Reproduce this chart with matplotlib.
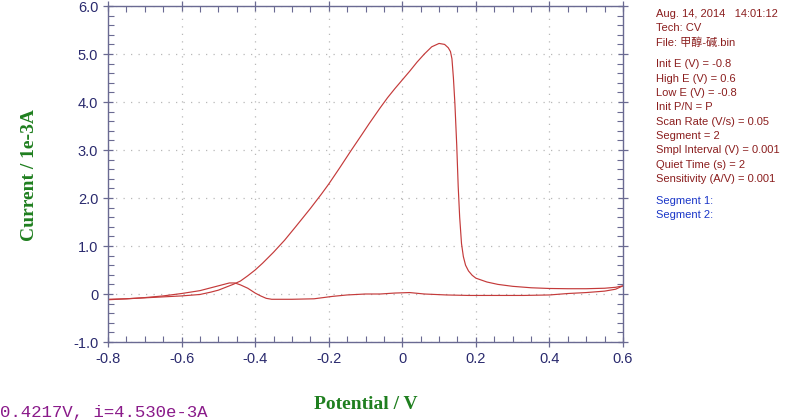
import matplotlib.pyplot as plt
from matplotlib.ticker import MultipleLocator, FuncFormatter

# scan 1: -0.8 V -> 0.6 V side with the big anodic peak
pot_a = [-0.80, -0.75, -0.70, -0.65, -0.60, -0.55, -0.52, -0.50, -0.48, -0.46,
         -0.44, -0.42, -0.40, -0.38, -0.35, -0.32, -0.29, -0.25, -0.22, -0.20,
         -0.17, -0.14, -0.11, -0.09, -0.06, -0.04, -0.02, 0.00, 0.02, 0.04,
         0.06, 0.08, 0.10, 0.115, 0.125, 0.131, 0.135, 0.139, 0.143, 0.148,
         0.152, 0.156, 0.161, 0.166, 0.172, 0.18, 0.19, 0.20, 0.23, 0.26, 0.30,
         0.35, 0.40, 0.45, 0.50, 0.55, 0.58, 0.60]
cur_a = [-0.12, -0.10, -0.08, -0.06, -0.04, -0.01, 0.04, 0.08, 0.14, 0.20,
         0.27, 0.38, 0.50, 0.64, 0.87, 1.12, 1.40, 1.78, 2.08, 2.29,
         2.63, 2.98, 3.32, 3.55, 3.88, 4.09, 4.28, 4.46, 4.64, 4.83,
         5.00, 5.15, 5.22, 5.20, 5.13, 5.05, 4.90, 4.50, 3.97, 3.10,
         2.24, 1.60, 1.05, 0.78, 0.60, 0.48, 0.39, 0.33, 0.25, 0.20, 0.16,
         0.13, 0.115, 0.11, 0.11, 0.12, 0.14, 0.17]

# scan 2: back from 0.6 V to -0.8 V
pot_b = [0.60, 0.58, 0.55, 0.50, 0.45, 0.40, 0.33, 0.25, 0.18, 0.12,
         0.06, 0.02, -0.02, -0.06, -0.10, -0.15, -0.19, -0.24, -0.30, -0.355,
         -0.37, -0.385, -0.40, -0.42, -0.44, -0.455, -0.47, -0.48, -0.50, -0.525,
         -0.55, -0.60, -0.65, -0.70, -0.75, -0.80]
cur_b = [0.17, 0.10, 0.06, 0.03, 0.01, -0.02, -0.03, -0.03, -0.03, -0.02,
         0.00, 0.03, 0.02, 0.00, 0.00, -0.02, -0.05, -0.10, -0.11, -0.11,
         -0.09, -0.04, 0.02, 0.12, 0.19, 0.23, 0.23, 0.21, 0.17, 0.12,
         0.07, 0.01, -0.04, -0.075, -0.10, -0.11]

info_lines = ["Aug. 14, 2014   14:01:12", "Tech: CV", "File: 甲醇-碱.bin", "",
              "Init E (V) = -0.8", "High E (V) = 0.6", "Low E (V) = -0.8",
              "Init P/N = P", "Scan Rate (V/s) = 0.05", "Segment = 2",
              "Smpl Interval (V) = 0.001", "Quiet Time (s) = 2",
              "Sensitivity (A/V) = 0.001"]
segment_lines = ["Segment 1:", "Segment 2:"]
cursor_text = "0.4217V, i=4.530e-3A"

sans = ['Liberation Sans', 'Noto Sans CJK SC', 'DejaVu Sans']

fig = plt.figure(figsize=(8, 4.2), dpi=100)
ax = fig.add_axes([108 / 800, 1 - 342 / 420, 515 / 800, 336 / 420])

line_col = '#c43a3a'
ax.plot(pot_a, cur_a, color=line_col, lw=0.85)
ax.plot(pot_b, cur_b, color=line_col, lw=0.85)

ax.set_xlim(-0.8, 0.6)
ax.set_ylim(-1.0, 6.0)
ax.xaxis.set_major_locator(MultipleLocator(0.2))
ax.xaxis.set_minor_locator(MultipleLocator(0.05))
ax.yaxis.set_major_locator(MultipleLocator(1.0))
ax.yaxis.set_minor_locator(MultipleLocator(0.2))

fmt = FuncFormatter(lambda v, p: '0' if abs(v) < 1e-9 else '%.1f' % v)
ax.xaxis.set_major_formatter(fmt)
ax.yaxis.set_major_formatter(fmt)

spine_col = '#6a6a92'
for s in ax.spines.values():
    s.set_color(spine_col)
    s.set_linewidth(1.0)
ax.tick_params(which='major', direction='inout', length=7, width=0.9,
               color=spine_col, labelcolor='#2a2a6e', labelsize=10.5,
               top=True, right=True)
ax.tick_params(which='minor', direction='in', length=4, width=0.8,
               color=spine_col, top=True, right=True)
for lab in ax.get_xticklabels() + ax.get_yticklabels():
    lab.set_family(sans)

ax.grid(True, which='major', color='#b8b8b8', linestyle=(0, (1, 5)), lw=0.9)

green = '#1f7f1f'
ax.set_xlabel('Potential / V', family='Liberation Serif', fontweight='bold',
              fontsize=14, color=green, labelpad=22)
fig.text(30 / 800, 1 - 175 / 420, 'Current / 1e-3A', family='Liberation Serif',
         fontweight='bold', fontsize=14, color=green, rotation=90,
         ha='center', va='center')

y = 14
for t in info_lines:
    if t:
        fig.text(656 / 800, 1 - y / 420, t, family=sans, fontsize=8,
                 color='#8b1e1e', ha='left', va='center')
        y += 14.3
    else:
        y += 7.5
y += 7.5
for t in segment_lines:
    fig.text(656 / 800, 1 - y / 420, t, family=sans, fontsize=8,
             color='#1a36c8', ha='left', va='center')
    y += 14.3

fig.text(0.0, 1 - 405 / 420, cursor_text, family='Liberation Mono',
         fontsize=12.5, color='#8a1a8a', ha='left', va='top')

fig.savefig('out.png', dpi=100)
